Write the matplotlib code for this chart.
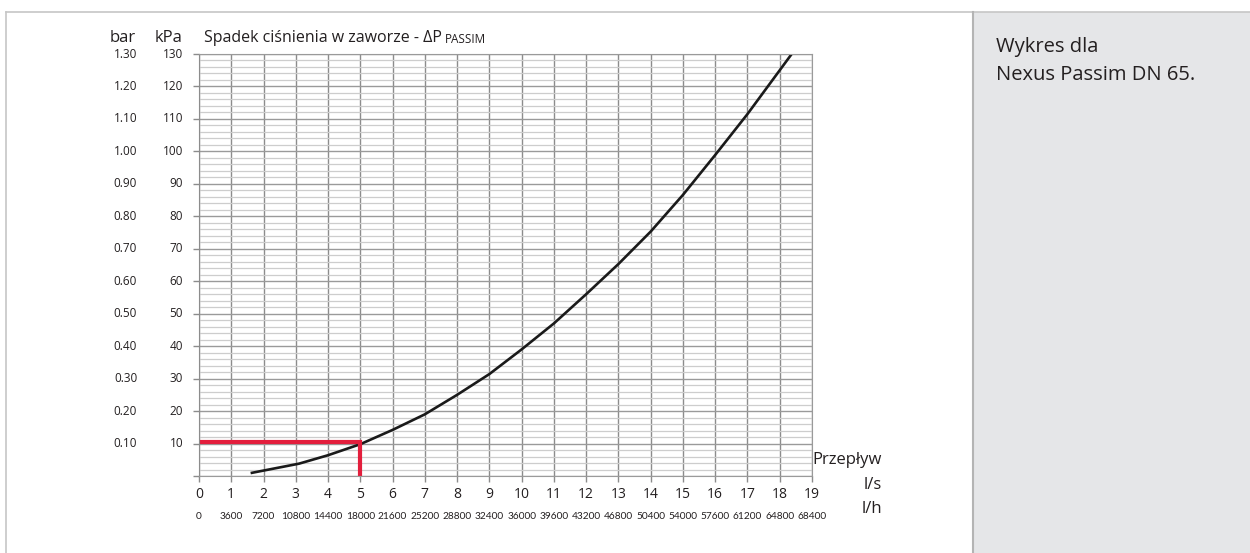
import matplotlib
matplotlib.use("Agg")
import matplotlib.pyplot as plt
from matplotlib.patches import Rectangle
from matplotlib.lines import Line2D

plt.rcParams['font.family'] = ['Open Sans', 'DejaVu Sans']

# pressure drop curve, flow in l/s vs dP in kPa
flow_ls = [1.6, 3.1, 4.0, 5.0, 6.0, 7.0, 8.0, 9.0, 10.0, 11.0, 12.0,
           13.0, 14.0, 15.0, 16.0, 17.0, 18.0, 18.37]
dp_kpa = [0.9, 3.8, 6.4, 9.8, 14.2, 19.0, 25.0, 31.4, 39.0, 47.0, 56.0,
          65.3, 75.3, 86.6, 98.9, 111.5, 125.0, 130.0]

# example reading
sel_flow = 5.0
sel_dp = 10.5

ls_ticks = list(range(0, 20))
lh_labels = ['0', '3600', '7200', '10800', '14400', '18000', '21600', '25200',
             '28800', '32400', '36000', '39600', '43200', '46800', '50400',
             '54000', '57600', '61200', '64800', '68400']
kpa_ticks = [10, 20, 30, 40, 50, 60, 70, 80, 90, 100, 110, 120, 130]
bar_labels = ['0.10', '0.20', '0.30', '0.40', '0.50', '0.60', '0.70',
              '0.80', '0.90', '1.00', '1.10', '1.20', '1.30']

txt = '#231f20'
W, H = 1250, 553
fig = plt.figure(figsize=(W / 100, H / 100), dpi=100)

# page frame and side panel
def fx(px): return px / W
def fy(py): return 1 - py / H

fig.add_artist(Line2D([fx(6), 1], [fy(12), fy(12)], color='#c6c6c6', lw=1.2))
fig.add_artist(Line2D([fx(6), fx(6)], [fy(12), 0], color='#c6c6c6', lw=1.2))
fig.add_artist(Rectangle((fx(973), 0), 1 - fx(973), fy(12), facecolor='#e5e6e8',
                         edgecolor='none', transform=fig.transFigure))
fig.add_artist(Line2D([fx(973), fx(973)], [fy(12), 0], color='#b4b4b4', lw=1.5))
fig.text(fx(996), fy(52), 'Wykres dla', fontsize=14.5, color=txt, va='baseline')
fig.text(fx(996), fy(80), 'Nexus Passim DN 65.', fontsize=14.5, color=txt, va='baseline')

ax = fig.add_axes([199 / W, 77 / H, 613 / W, 422 / H])
ax.set_xlim(0, 19)
ax.set_ylim(0, 130)

ax.set_yticks([0] + kpa_ticks)
ax.set_yticks(range(0, 131, 2), minor=True)
ax.set_xticks(ls_ticks)
ax.grid(which='minor', axis='y', color='#cdcdcd', lw=0.9)
ax.grid(which='major', axis='y', color='#9a9a9a', lw=1.0)
ax.grid(which='major', axis='x', color='#8c8c8c', lw=1.0)
ax.set_axisbelow(True)
for s in ax.spines.values():
    s.set_color('#9a9a9a')
ax.spines['left'].set_color('#8c8c8c')
ax.tick_params(which='major', length=4, color='#8c8c8c', width=1.0)
ax.tick_params(which='minor', length=0)
ax.set_yticklabels([])
ax.set_xticklabels([str(v) for v in ls_ticks], fontsize=10, color=txt)
ax.tick_params(axis='x', pad=4)

ax.plot(flow_ls, dp_kpa, color='#1a1a1a', lw=1.9, solid_capstyle='butt')
ax.plot([0, sel_flow, sel_flow], [sel_dp, sel_dp, 0], color='#e31e3c', lw=3.0,
        solid_joinstyle='miter', solid_capstyle='butt')

# kPa and bar scales on the left
for v, b in zip(kpa_ticks, bar_labels):
    ax.annotate(str(v), xy=(0, v), xycoords=('axes fraction', 'data'),
                xytext=(-11.5, 0), textcoords='offset points',
                ha='right', va='center', fontsize=8.5, color=txt)
    ax.annotate(b, xy=(0, v), xycoords=('axes fraction', 'data'),
                xytext=(-44.5, 0), textcoords='offset points',
                ha='right', va='center', fontsize=8.5, color=txt)

# l/h row under the l/s row, narrower face so the long numbers fit
for v, lab in zip(ls_ticks, lh_labels):
    ax.annotate(lab, xy=(v, 0), xycoords=('data', 'axes fraction'),
                xytext=(0, -29.5), textcoords='offset points',
                ha='center', va='center', fontsize=7.3, color=txt,
                family=['Lato', 'DejaVu Sans'])

fig.text(fx(110), fy(42), 'bar', fontsize=12, color=txt, va='baseline')
fig.text(fx(155), fy(42), 'kPa', fontsize=12, color=txt, va='baseline')
t1 = fig.text(fx(204), fy(42), 'Spadek ciśnienia w zaworze - ΔP', fontsize=11.5,
              color=txt, va='baseline')
ax.annotate('PASSIM', xy=(1, 0), xycoords=t1, xytext=(2, 0),
            textcoords='offset points', fontsize=8.5, color=txt,
            va='bottom', ha='left')

fig.text(fx(882), fy(464), 'Przepływ', fontsize=12, color=txt, ha='right', va='baseline')
fig.text(fx(882), fy(489), 'l/s', fontsize=12, color=txt, ha='right', va='baseline')
fig.text(fx(882), fy(513), 'l/h', fontsize=12, color=txt, ha='right', va='baseline')

fig.savefig('out.png', dpi=100)
